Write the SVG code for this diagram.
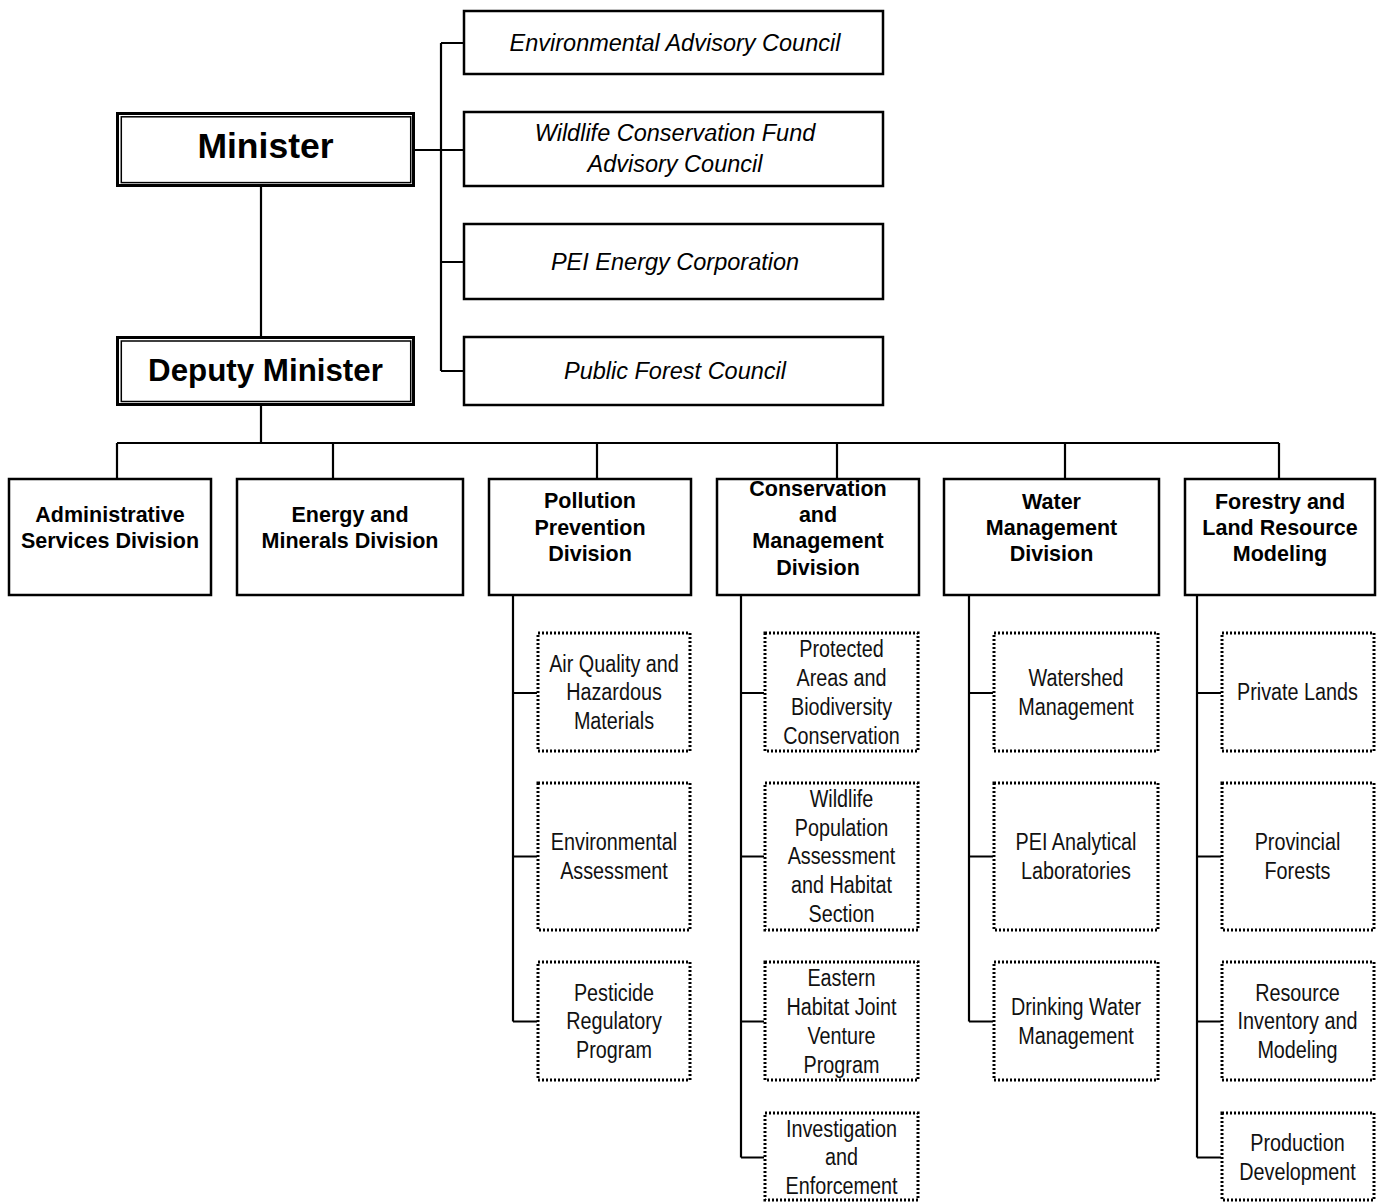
<svg xmlns="http://www.w3.org/2000/svg" width="1378" height="1203" viewBox="0 0 1378 1203">
<style>
.bg{fill:#ffffff}
.box{fill:#ffffff;stroke:#000;stroke-width:2.5}
.outer{fill:#ffffff;stroke:#000;stroke-width:3}
.inner{fill:none;stroke:#000;stroke-width:1.5}
.dot{fill:#ffffff;stroke:#000;stroke-width:3;stroke-dasharray:2 2}
.ln{fill:none;stroke:#000;stroke-width:2.2}
.big{font-family:"Liberation Sans",Arial,sans-serif;font-weight:bold;text-anchor:middle;fill:#000}
.ital{font-family:"Liberation Sans",Arial,sans-serif;font-style:italic;font-size:23.5px;text-anchor:middle;fill:#000}
.div{font-family:"Liberation Sans",Arial,sans-serif;font-weight:bold;font-size:21.5px;text-anchor:middle;fill:#000}
.sub{font-family:"Liberation Sans",Arial,sans-serif;font-size:23px;text-anchor:middle;fill:#111}
</style>
<rect class="bg" x="0" y="0" width="1378" height="1203"/>

<g id="connectors">
<path class="ln" d="M261 187V337M261 405V443M117 443H1279M117 443V479M333 443V479M597 443V479M837 443V479M1065 443V479M1279 443V479"/>
<path class="ln" d="M415 150H464M441 43V371M441 43H464M441 262H464M441 371H464"/>
<path class="ln" d="M513 595V1021.5M513 693H537M513 856.5H537M513 1021.5H537"/>
<path class="ln" d="M741 595V1157.5M741 693H764M741 856.5H764M741 1021.5H764M741 1157.5H764"/>
<path class="ln" d="M969 595V1021.5M969 693H993M969 856.5H993M969 1021.5H993"/>
<path class="ln" d="M1197 595V1157.5M1197 693H1221M1197 856.5H1221M1197 1021.5H1221M1197 1157.5H1221"/>
</g>

<g id="minister">
<rect class="outer" x="117.5" y="113.5" width="296" height="72"/>
<rect class="inner" x="121.3" y="116.8" width="289.4" height="65.8"/>
<text class="big" x="265.5" y="158" font-size="35.5">Minister</text>
</g>
<g id="deputy">
<rect class="outer" x="117.5" y="337.5" width="296" height="67"/>
<rect class="inner" x="121.3" y="341" width="289.4" height="60.5"/>
<text class="big" x="265.5" y="381" font-size="31.3">Deputy Minister</text>
</g>

<g id="env-council">
<rect class="box" x="464" y="11" width="419" height="63"/>
<text class="ital" x="675" y="51">Environmental Advisory Council</text>
</g>
<g id="wildlife-fund">
<rect class="box" x="464" y="112" width="419" height="74"/>
<text class="ital" x="675" y="141">Wildlife Conservation Fund</text>
<text class="ital" x="675" y="172">Advisory Council</text>
</g>
<g id="pei-energy">
<rect class="box" x="464" y="224" width="419" height="75"/>
<text class="ital" x="675" y="270">PEI Energy Corporation</text>
</g>
<g id="public-forest">
<rect class="box" x="464" y="337" width="419" height="68"/>
<text class="ital" x="675" y="379">Public Forest Council</text>
</g>

<g id="admin">
<rect class="box" x="9" y="479" width="202" height="116"/>
<text class="div" x="110" y="522">Administrative</text>
<text class="div" x="110" y="548">Services Division</text>
</g>
<g id="energy">
<rect class="box" x="237" y="479" width="226" height="116"/>
<text class="div" x="350" y="522">Energy and</text>
<text class="div" x="350" y="548">Minerals Division</text>
</g>
<g id="pollution">
<rect class="box" x="489" y="479" width="202" height="116"/>
<text class="div" x="590" y="508">Pollution</text>
<text class="div" x="590" y="535">Prevention</text>
<text class="div" x="590" y="561">Division</text>
</g>
<g id="conservation">
<rect class="box" x="717" y="479" width="202" height="116"/>
<text class="div" x="818" y="496">Conservation</text>
<text class="div" x="818" y="522">and</text>
<text class="div" x="818" y="548">Management</text>
<text class="div" x="818" y="575">Division</text>
</g>
<g id="water">
<rect class="box" x="944" y="479" width="215" height="116"/>
<text class="div" x="1051.5" y="509">Water</text>
<text class="div" x="1051.5" y="535">Management</text>
<text class="div" x="1051.5" y="561">Division</text>
</g>
<g id="forestry">
<rect class="box" x="1185" y="479" width="190" height="116"/>
<text class="div" x="1280" y="509">Forestry and</text>
<text class="div" x="1280" y="535">Land Resource</text>
<text class="div" x="1280" y="561">Modeling</text>
</g>

<g id="air-quality">
<rect class="dot" x="538" y="633" width="152" height="118"/>
<text class="sub" transform="translate(614 0) scale(0.86 1)"><tspan x="0" y="671.8">Air Quality and</tspan><tspan x="0" y="700.5">Hazardous</tspan><tspan x="0" y="729.2">Materials</tspan></text>
</g>
<g id="env-assessment">
<rect class="dot" x="538" y="783" width="152" height="147"/>
<text class="sub" transform="translate(614 0) scale(0.86 1)"><tspan x="0" y="850.2">Environmental</tspan><tspan x="0" y="878.9">Assessment</tspan></text>
</g>
<g id="pesticide">
<rect class="dot" x="538" y="962" width="152" height="118"/>
<text class="sub" transform="translate(614 0) scale(0.86 1)"><tspan x="0" y="1000.8">Pesticide</tspan><tspan x="0" y="1029.5">Regulatory</tspan><tspan x="0" y="1058.2">Program</tspan></text>
</g>

<g id="protected-areas">
<rect class="dot" x="765" y="633" width="153" height="118"/>
<text class="sub" transform="translate(841.5 0) scale(0.86 1)"><tspan x="0" y="657.5">Protected</tspan><tspan x="0" y="686.2">Areas and</tspan><tspan x="0" y="714.9">Biodiversity</tspan><tspan x="0" y="743.6">Conservation</tspan></text>
</g>
<g id="wildlife-population">
<rect class="dot" x="765" y="783" width="153" height="147"/>
<text class="sub" transform="translate(841.5 0) scale(0.86 1)"><tspan x="0" y="807.1">Wildlife</tspan><tspan x="0" y="835.8">Population</tspan><tspan x="0" y="864.5">Assessment</tspan><tspan x="0" y="893.2">and Habitat</tspan><tspan x="0" y="921.9">Section</tspan></text>
</g>
<g id="eastern-habitat">
<rect class="dot" x="765" y="962" width="153" height="118"/>
<text class="sub" transform="translate(841.5 0) scale(0.86 1)"><tspan x="0" y="986.5">Eastern</tspan><tspan x="0" y="1015.2">Habitat Joint</tspan><tspan x="0" y="1043.9">Venture</tspan><tspan x="0" y="1072.6">Program</tspan></text>
</g>
<g id="investigation">
<rect class="dot" x="765" y="1113" width="153" height="87"/>
<text class="sub" transform="translate(841.5 0) scale(0.86 1)"><tspan x="0" y="1136.8">Investigation</tspan><tspan x="0" y="1165.5">and</tspan><tspan x="0" y="1194.2">Enforcement</tspan></text>
</g>

<g id="watershed">
<rect class="dot" x="994" y="633" width="164" height="118"/>
<text class="sub" transform="translate(1076 0) scale(0.86 1)"><tspan x="0" y="686.2">Watershed</tspan><tspan x="0" y="714.9">Management</tspan></text>
</g>
<g id="pei-labs">
<rect class="dot" x="994" y="783" width="164" height="147"/>
<text class="sub" transform="translate(1076 0) scale(0.86 1)"><tspan x="0" y="850.2">PEI Analytical</tspan><tspan x="0" y="878.9">Laboratories</tspan></text>
</g>
<g id="drinking-water">
<rect class="dot" x="994" y="962" width="164" height="118"/>
<text class="sub" transform="translate(1076 0) scale(0.86 1)"><tspan x="0" y="1015.2">Drinking Water</tspan><tspan x="0" y="1043.9">Management</tspan></text>
</g>

<g id="private-lands">
<rect class="dot" x="1222" y="633" width="152" height="118"/>
<text class="sub" transform="translate(1297.5 0) scale(0.86 1)"><tspan x="0" y="700.5">Private Lands</tspan></text>
</g>
<g id="provincial-forests">
<rect class="dot" x="1222" y="783" width="152" height="147"/>
<text class="sub" transform="translate(1297.5 0) scale(0.86 1)"><tspan x="0" y="850.2">Provincial</tspan><tspan x="0" y="878.9">Forests</tspan></text>
</g>
<g id="resource-inventory">
<rect class="dot" x="1222" y="962" width="152" height="118"/>
<text class="sub" transform="translate(1297.5 0) scale(0.86 1)"><tspan x="0" y="1000.8">Resource</tspan><tspan x="0" y="1029.5">Inventory and</tspan><tspan x="0" y="1058.2">Modeling</tspan></text>
</g>
<g id="production-development">
<rect class="dot" x="1222" y="1113" width="152" height="87"/>
<text class="sub" transform="translate(1297.5 0) scale(0.86 1)"><tspan x="0" y="1151.2">Production</tspan><tspan x="0" y="1179.9">Development</tspan></text>
</g>
</svg>
